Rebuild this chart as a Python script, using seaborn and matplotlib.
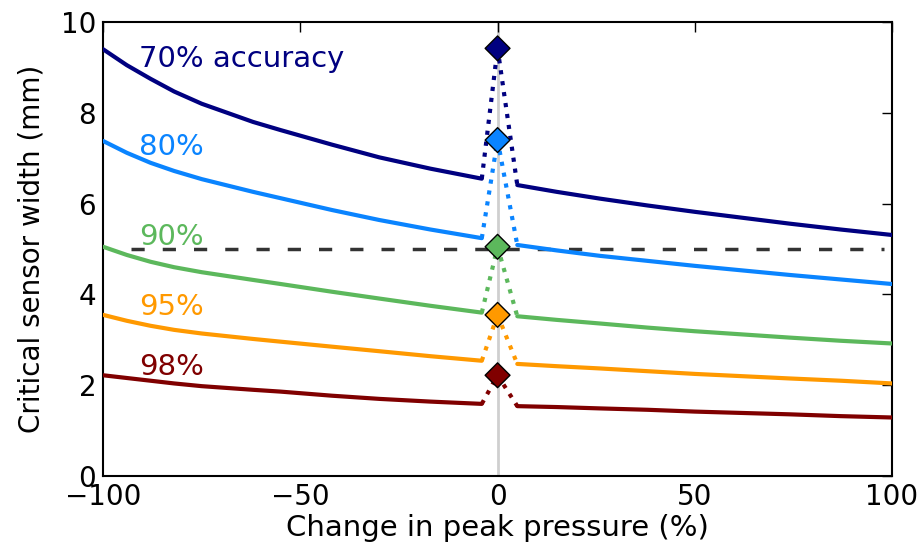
import numpy as np
import pandas as pd
import matplotlib
matplotlib.use("Agg")
import matplotlib.pyplot as plt
import seaborn as sns

# values
levels = ["70%", "80%", "90%", "95%", "98%"]
label_text = ["70% accuracy", "80%", "90%", "95%", "98%"]
colors = ["#000080", "#0a84ff", "#5cb85c", "#ff9900", "#800000"]

x_left = [-100, -94, -88, -82, -75, -62, -55, -42, -30, -17, -4]
x_right = [5, 15, 26, 38, 50, 62, 74, 87, 100]

w_left = {
    "70%": [9.40, 9.05, 8.75, 8.47, 8.20, 7.80, 7.62, 7.30, 7.02, 6.77, 6.55],
    "80%": [7.38, 7.12, 6.90, 6.72, 6.54, 6.26, 6.12, 5.86, 5.64, 5.43, 5.24],
    "90%": [5.05, 4.87, 4.72, 4.60, 4.49, 4.32, 4.23, 4.06, 3.91, 3.75, 3.60],
    "95%": [3.55, 3.42, 3.31, 3.22, 3.14, 3.02, 2.96, 2.85, 2.75, 2.64, 2.54],
    "98%": [2.22, 2.16, 2.10, 2.04, 1.98, 1.90, 1.86, 1.77, 1.70, 1.64, 1.59],
}
w_right = {
    "70%": [6.41, 6.26, 6.11, 5.96, 5.82, 5.69, 5.56, 5.43, 5.31],
    "80%": [5.09, 4.97, 4.85, 4.74, 4.63, 4.53, 4.43, 4.33, 4.23],
    "90%": [3.52, 3.44, 3.36, 3.27, 3.19, 3.12, 3.05, 2.98, 2.92],
    "95%": [2.47, 2.42, 2.37, 2.31, 2.25, 2.20, 2.15, 2.10, 2.04],
    "98%": [1.54, 1.52, 1.49, 1.46, 1.42, 1.39, 1.36, 1.32, 1.29],
}
w_zero = [9.42, 7.40, 5.05, 3.55, 2.22]
label_y = [9.0, 7.07, 5.09, 3.55, 2.22]
threshold = 5.0

rows = []
for lev in levels:
    for x, w in zip(x_left, w_left[lev]):
        rows.append((lev, "left", x, w))
    for x, w in zip(x_right, w_right[lev]):
        rows.append((lev, "right", x, w))
df = pd.DataFrame(rows, columns=["level", "side", "change", "width"])

conn = []
for i, lev in enumerate(levels):
    conn.append((lev, "left", x_left[-1], w_left[lev][-1]))
    conn.append((lev, "left", 0, w_zero[i]))
    conn.append((lev, "right", 0, w_zero[i]))
    conn.append((lev, "right", x_right[0], w_right[lev][0]))
conn = pd.DataFrame(conn, columns=["level", "side", "change", "width"])
peaks = pd.DataFrame({"level": levels, "change": [0] * len(levels), "width": w_zero})

sns.set_style("white", {"xtick.direction": "in", "ytick.direction": "in"})
plt.rcParams["font.family"] = ["DejaVu Sans"]
plt.rcParams.update({"text.color": "black", "axes.labelcolor": "black",
                     "xtick.color": "black", "ytick.color": "black"})
pal = dict(zip(levels, colors))

fig = plt.figure(figsize=(9.21, 5.51), dpi=100)
ax = fig.add_axes([0.112, 0.136, 0.8565, 0.824])

ax.axvline(0, color="#cfcfcf", lw=2, zorder=0)
ax.hlines(threshold, -93, 98, colors="#333333", lw=2.5, linestyles=(0, (3.8, 5.2)), zorder=1)

sns.lineplot(data=df, x="change", y="width", hue="level", units="side", estimator=None,
             palette=pal, lw=3, legend=False, ax=ax, zorder=3)
sns.lineplot(data=conn, x="change", y="width", hue="level", units="side", estimator=None,
             palette=pal, lw=3, legend=False, ax=ax, zorder=2, sort=False)
for line in ax.lines[-2 * len(levels):]:
    line.set_linestyle(":")
sns.scatterplot(data=peaks, x="change", y="width", hue="level", palette=pal, marker="D",
                s=160, edgecolor="black", linewidth=1, legend=False, ax=ax, zorder=4)

for txt, y, c in zip(label_text, label_y, colors):
    ax.text(-91, y, txt, color=c, fontsize=21, va="baseline", ha="left")

ax.set_xlim(-100, 100)
ax.set_ylim(0, 10)
ax.set_xticks([-100, -50, 0, 50, 100])
ax.set_yticks([0, 2, 4, 6, 8, 10])
ax.tick_params(top=True, right=True, length=7, width=1, labelsize=20, pad=5)
for s in ax.spines.values():
    s.set_linewidth(1.5)
    s.set_color("black")
ax.set_xlabel("Change in peak pressure (%)", fontsize=21, labelpad=2)
ax.set_ylabel("Critical sensor width (mm)", fontsize=20, labelpad=11)

fig.savefig("out.png", dpi=100)
